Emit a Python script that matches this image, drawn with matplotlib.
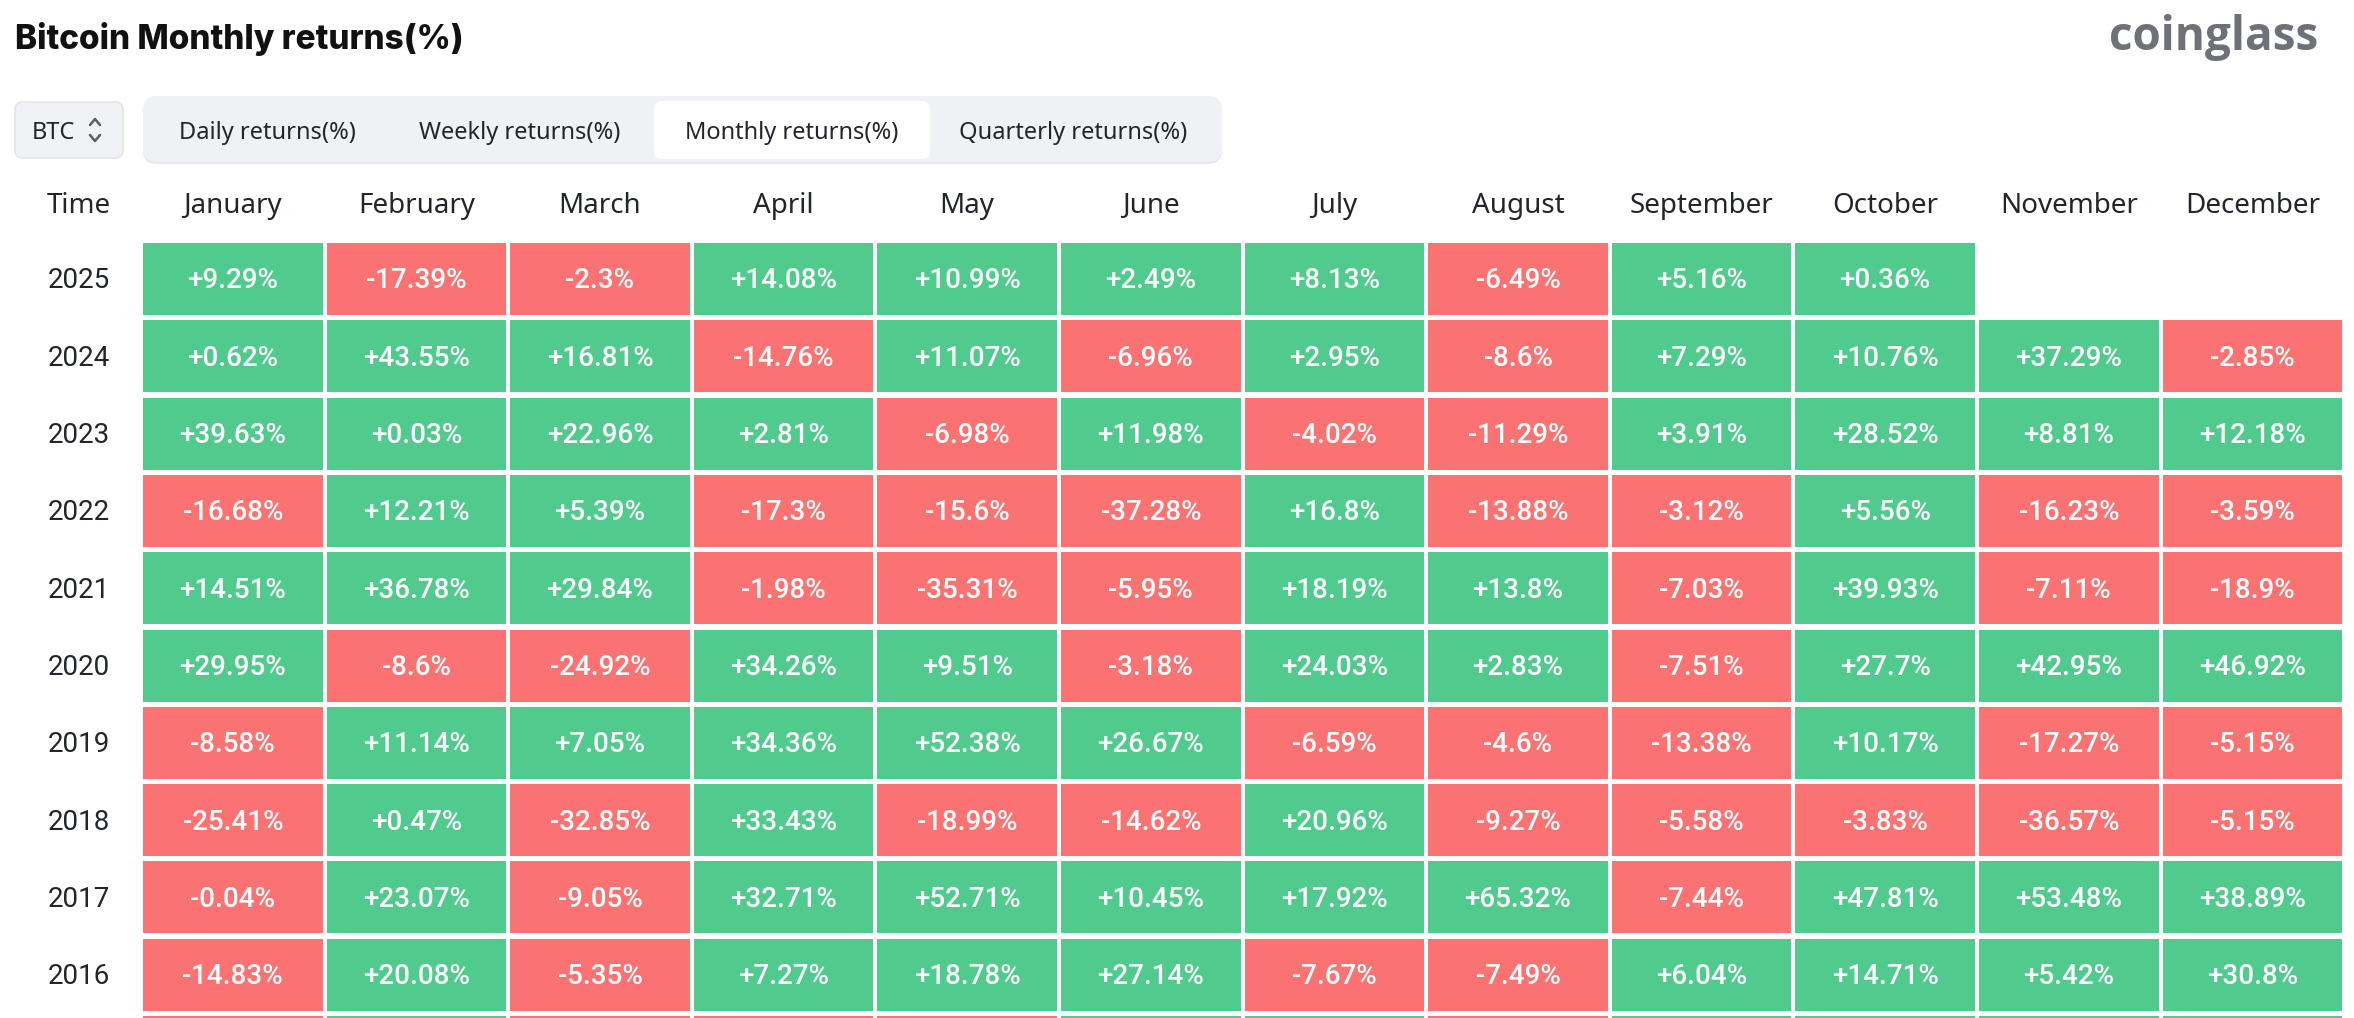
import matplotlib
matplotlib.use("Agg")
import matplotlib.pyplot as plt
from matplotlib.patches import Rectangle, FancyBboxPatch

# ---------------- data ----------------
months = ["January", "February", "March", "April", "May", "June",
          "July", "August", "September", "October", "November", "December"]
years = [2025, 2024, 2023, 2022, 2021, 2020, 2019, 2018, 2017, 2016, 2015]

r2025 = [9.29, -17.39, -2.3, 14.08, 10.99, 2.49, 8.13, -6.49, 5.16, 0.36, None, None]
r2024 = [0.62, 43.55, 16.81, -14.76, 11.07, -6.96, 2.95, -8.6, 7.29, 10.76, 37.29, -2.85]
r2023 = [39.63, 0.03, 22.96, 2.81, -6.98, 11.98, -4.02, -11.29, 3.91, 28.52, 8.81, 12.18]
r2022 = [-16.68, 12.21, 5.39, -17.3, -15.6, -37.28, 16.8, -13.88, -3.12, 5.56, -16.23, -3.59]
r2021 = [14.51, 36.78, 29.84, -1.98, -35.31, -5.95, 18.19, 13.8, -7.03, 39.93, -7.11, -18.9]
r2020 = [29.95, -8.6, -24.92, 34.26, 9.51, -3.18, 24.03, 2.83, -7.51, 27.7, 42.95, 46.92]
r2019 = [-8.58, 11.14, 7.05, 34.36, 52.38, 26.67, -6.59, -4.6, -13.38, 10.17, -17.27, -5.15]
r2018 = [-25.41, 0.47, -32.85, 33.43, -18.99, -14.62, 20.96, -9.27, -5.58, -3.83, -36.57, -5.15]
r2017 = [-0.04, 23.07, -9.05, 32.71, 52.71, 10.45, 17.92, 65.32, -7.44, 47.81, 53.48, 38.89]
r2016 = [-14.83, 20.08, -5.35, 7.27, 18.78, 27.14, -7.67, -7.49, 6.04, 14.71, 5.42, 30.8]
r2015 = [-33.05, 17.8, -4.31, -3.46, -3.17, 15.19, 8.2, -18.67, 2.35, 33.49, 19.27, 13.83]
rows = [r2025, r2024, r2023, r2022, r2021, r2020, r2019, r2018, r2017, r2016, r2015]

tabs = ["Daily returns(%)", "Weekly returns(%)", "Monthly returns(%)", "Quarterly returns(%)"]
active_tab = "Monthly returns(%)"

# ---------------- style / layout ----------------
W, H = 2354, 1018
GREEN = "#50cb8d"
RED = "#fa7271"
DARK = "#22262c"
GRID_X0, GRID_Y0 = 143, 243
COL_PITCH, ROW_PITCH = 183.6, 77.3
CELL_W, CELL_H = 179.5, 72
LABEL_X = 79
HEADER_Y = 206

fig = plt.figure(figsize=(W / 100, H / 100), dpi=100)
fig.patch.set_facecolor("white")
ax = fig.add_axes([0, 0, 1, 1])
ax.set_xlim(0, W)
ax.set_ylim(H, 0)
ax.axis("off")

# title and logo
ax.text(15, 39, "Bitcoin Monthly returns(%)", ha="left", va="center",
        fontsize=24, fontweight="heavy", color="#111111",
        family=["Liberation Sans Narrow", "Inter", "DejaVu Sans"])
ax.text(2318, 37, "coinglass", ha="right", va="center",
        fontsize=33, fontweight="bold", color="#6e7178",
        family=["Open Sans", "DejaVu Sans"])

# BTC selector
ax.add_patch(FancyBboxPatch((15, 102), 108, 56, boxstyle="round,pad=0,rounding_size=8",
                            facecolor="#f1f2f5", edgecolor="#e3e5e9", linewidth=1.2))
ax.text(32, 133, "BTC", ha="left", va="center", fontsize=17, color=DARK,
        family=["Noto Sans", "DejaVu Sans"])
ax.plot([90, 95, 100], [125, 119, 125], color="#5a5f66", lw=1.8, solid_capstyle="round")
ax.plot([90, 95, 100], [135, 141, 135], color="#5a5f66", lw=1.8, solid_capstyle="round")

# tab bar
ax.add_patch(FancyBboxPatch((143, 98), 1079, 66, boxstyle="round,pad=0,rounding_size=14",
                            facecolor="#e6e7ea", edgecolor="none"))
ax.add_patch(FancyBboxPatch((143, 96), 1079, 66, boxstyle="round,pad=0,rounding_size=14",
                            facecolor="#f0f1f4", edgecolor="none"))
tab_centers = [267, 520, 792, 1073]
for name, cx in zip(tabs, tab_centers):
    if name == active_tab:
        ax.add_patch(FancyBboxPatch((654, 101), 276, 58, boxstyle="round,pad=0,rounding_size=8",
                                    facecolor="white", edgecolor="none"))
    ax.text(cx, 133, name, ha="center", va="center", fontsize=17, color=DARK,
            family=["Noto Sans", "DejaVu Sans"])

# header
ax.text(LABEL_X, HEADER_Y, "Time", ha="center", va="center", fontsize=20, color=DARK,
        family=["Noto Sans", "DejaVu Sans"])
for c, m in enumerate(months):
    cx = GRID_X0 + c * COL_PITCH + CELL_W / 2
    ax.text(cx, HEADER_Y, m, ha="center", va="center", fontsize=20, color=DARK,
            family=["Noto Sans", "DejaVu Sans"])

# cells (the last row is only a sliver at the bottom edge, so its labels fall off-canvas)
for r, (yr, vals) in enumerate(zip(years, rows)):
    y0 = GRID_Y0 + r * ROW_PITCH
    show_text = y0 + CELL_H <= H
    if show_text:
        ax.text(LABEL_X, y0 + CELL_H / 2 + 2, str(yr), ha="center", va="center",
                fontsize=20, color=DARK, family=["Roboto", "DejaVu Sans"])
    for c, v in enumerate(vals):
        if v is None:
            continue
        x0 = GRID_X0 + c * COL_PITCH
        ax.add_patch(Rectangle((x0, y0), CELL_W, CELL_H,
                               facecolor=GREEN if v > 0 else RED, edgecolor="none"))
        if show_text:
            ax.text(x0 + CELL_W / 2, y0 + CELL_H / 2 + 2, format(v, "+g") + "%",
                    ha="center", va="center", fontsize=20, fontweight="medium",
                    color="white", family=["Roboto", "DejaVu Sans"])

fig.savefig("out.png", dpi=100, facecolor="white")
